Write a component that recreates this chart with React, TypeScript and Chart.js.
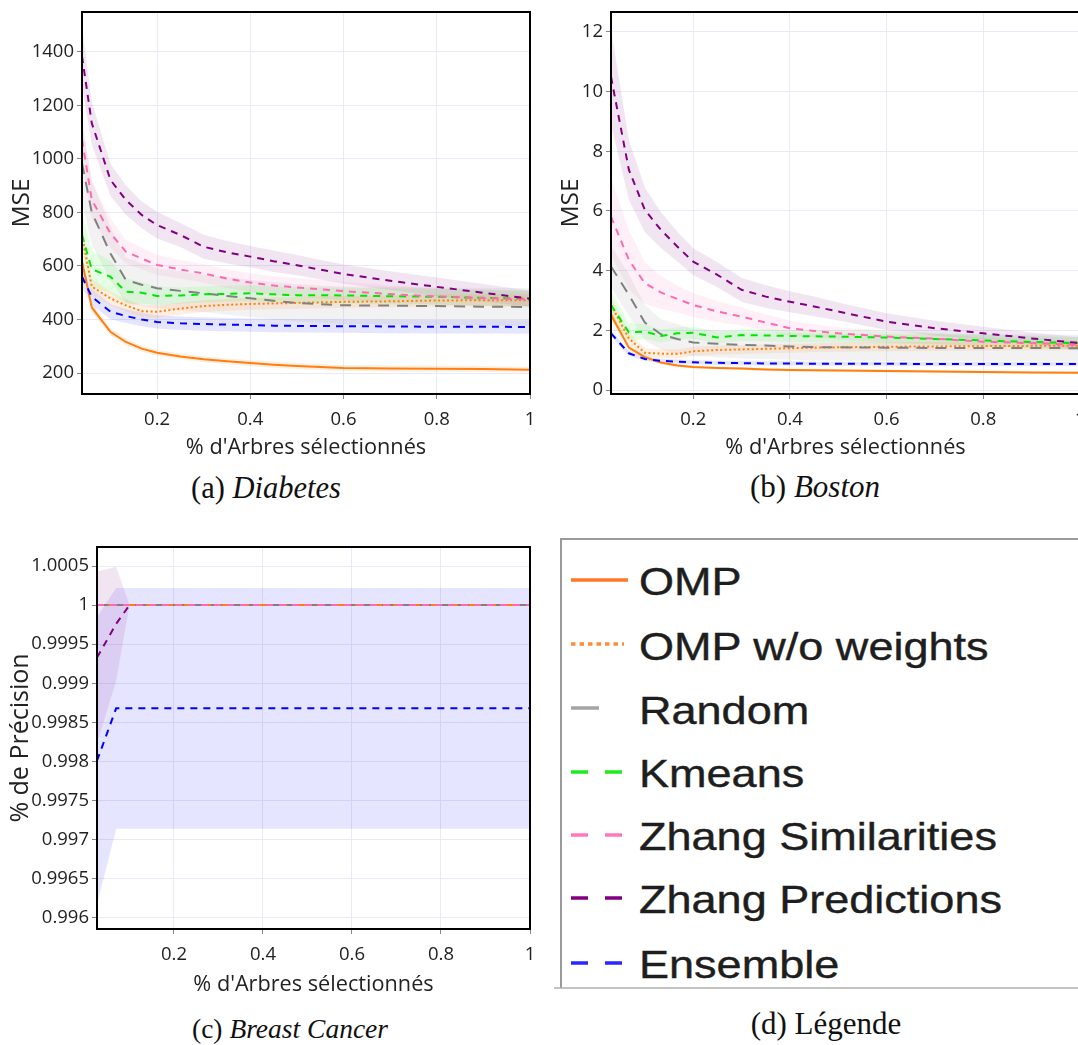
import React, { useEffect, useRef } from "react";
import { Chart, registerables } from "chart.js";

Chart.register(...registerables);

// ---------------- data ----------------
const SERIES_NAMES = ["OMP", "OMP w/o weights", "Random", "Kmeans", "Zhang Similarities", "Zhang Predictions", "Ensemble"];
const X_TICKS = [0.2, 0.4, 0.6, 0.8, 1];
const X_TITLE = "% d'Arbres sélectionnés";

// (a) Diabetes
const X_DIABETES = [0.039, 0.06, 0.1, 0.133, 0.167, 0.2, 0.25, 0.3, 0.35, 0.4, 0.45, 0.5, 0.6, 0.7, 0.8, 0.9, 1.0];
const Y_TICKS_DIABETES = [200, 400, 600, 800, 1000, 1200, 1400];
const DIA_OMP = [618, 445, 354, 316, 291, 276, 262, 251, 244, 237, 231, 226, 219, 217, 216, 215, 212];
const DIA_OMP_SD = [25, 18, 14, 12, 11, 11, 11, 11, 11, 11, 11, 11, 11, 11, 11, 11, 11];
const DIA_OMPW = [715, 523, 479, 453, 431, 429, 441, 450, 455, 458, 460, 462, 466, 468, 471, 472, 472];
const DIA_OMPW_SD = [40, 30, 26, 24, 22, 22, 22, 22, 22, 22, 22, 22, 22, 22, 22, 22, 22];
const DIA_RAND = [984, 800, 647, 548, 530, 517, 507, 498, 488, 479, 470, 462, 453, 452, 450, 448, 447];
const DIA_RAND_SD = [150, 120, 100, 85, 80, 75, 72, 70, 70, 70, 70, 70, 70, 70, 70, 70, 70];
const DIA_KM = [716, 588, 560, 504, 500, 488, 490, 494, 496, 498, 494, 491, 490, 487, 485, 481, 478];
const DIA_KM_SD = [90, 70, 60, 50, 40, 35, 30, 30, 30, 30, 30, 30, 30, 30, 30, 30, 30];
const DIA_ZS = [1072, 847, 722, 654, 628, 604, 587, 572, 553, 538, 527, 520, 506, 495, 486, 480, 475];
const DIA_ZS_SD = [80, 70, 55, 45, 40, 38, 35, 35, 35, 35, 35, 35, 35, 33, 30, 30, 30];
const DIA_ZP = [1384, 1134, 922, 847, 791, 753, 716, 672, 651, 635, 618, 603, 570, 545, 522, 500, 478];
const DIA_ZP_SD = [110, 80, 60, 55, 50, 50, 45, 45, 42, 40, 40, 38, 36, 35, 35, 33, 30];
const DIA_ENS = [560, 485, 429, 413, 400, 391, 386, 383, 381, 379, 377, 376, 375, 374, 373, 373, 372];
const DIA_ENS_SD = [40, 30, 28, 26, 25, 25, 25, 25, 25, 25, 25, 25, 25, 25, 25, 25, 25];

// (b) Boston
const X_BOSTON = [0.03, 0.067, 0.1, 0.133, 0.167, 0.2, 0.25, 0.3, 0.35, 0.4, 0.45, 0.5, 0.6, 0.7, 0.8, 0.9, 1.0];
const Y_TICKS_BOSTON = [0, 2, 4, 6, 8, 10, 12];
const BOS_OMP = [2.52, 1.42, 1.10, 0.92, 0.82, 0.77, 0.74, 0.72, 0.69, 0.67, 0.66, 0.65, 0.64, 0.62, 0.60, 0.59, 0.58];
const BOS_OMP_SD = [0.15, 0.1, 0.07, 0.06, 0.05, 0.05, 0.05, 0.05, 0.05, 0.05, 0.05, 0.05, 0.05, 0.05, 0.05, 0.05, 0.05];
const BOS_OMPW = [2.85, 1.73, 1.25, 1.22, 1.21, 1.30, 1.34, 1.36, 1.38, 1.40, 1.42, 1.43, 1.45, 1.46, 1.47, 1.48, 1.48];
const BOS_OMPW_SD = [0.3, 0.2, 0.15, 0.15, 0.15, 0.15, 0.15, 0.15, 0.15, 0.15, 0.15, 0.15, 0.15, 0.15, 0.15, 0.15, 0.15];
const BOS_RAND = [4.14, 3.19, 2.26, 1.87, 1.71, 1.59, 1.55, 1.51, 1.49, 1.46, 1.44, 1.43, 1.42, 1.41, 1.41, 1.41, 1.40];
const BOS_RAND_SD = [0.7, 0.7, 0.6, 0.5, 0.5, 0.45, 0.45, 0.45, 0.45, 0.45, 0.45, 0.45, 0.45, 0.45, 0.45, 0.45, 0.45];
const BOS_KM = [2.85, 1.93, 1.96, 1.81, 1.90, 1.92, 1.76, 1.84, 1.83, 1.81, 1.80, 1.79, 1.76, 1.71, 1.66, 1.61, 1.57];
const BOS_KM_SD = [0.5, 0.3, 0.25, 0.22, 0.2, 0.2, 0.2, 0.2, 0.2, 0.2, 0.2, 0.2, 0.2, 0.2, 0.2, 0.2, 0.2];
const BOS_ZS = [5.81, 4.36, 3.58, 3.27, 3.05, 2.85, 2.63, 2.46, 2.26, 2.07, 1.98, 1.90, 1.79, 1.72, 1.62, 1.57, 1.51];
const BOS_ZS_SD = [1.3, 1.0, 0.7, 0.55, 0.45, 0.4, 0.35, 0.3, 0.28, 0.25, 0.22, 0.2, 0.2, 0.18, 0.15, 0.15, 0.15];
const BOS_ZP = [10.5, 7.38, 6.04, 5.37, 4.81, 4.30, 3.86, 3.36, 3.13, 2.96, 2.80, 2.63, 2.29, 2.07, 1.90, 1.73, 1.57];
const BOS_ZP_SD = [1.6, 1.0, 0.75, 0.6, 0.5, 0.45, 0.42, 0.4, 0.38, 0.35, 0.33, 0.3, 0.28, 0.25, 0.22, 0.2, 0.2];
const BOS_ENS = [1.90, 1.23, 1.04, 0.98, 0.95, 0.93, 0.91, 0.90, 0.89, 0.89, 0.88, 0.88, 0.88, 0.87, 0.87, 0.87, 0.87];
const BOS_ENS_SD = [0.1, 0.08, 0.07, 0.07, 0.07, 0.07, 0.07, 0.07, 0.07, 0.07, 0.07, 0.07, 0.07, 0.07, 0.07, 0.07, 0.07];

// (c) Breast Cancer
const X_BREAST = [0.027, 0.07, 0.1, 0.2, 0.4, 0.6, 0.8, 1.0];
const Y_TICKS_BREAST = [0.996, 0.9965, 0.997, 0.9975, 0.998, 0.9985, 0.999, 0.9995, 1, 1.0005];
const BC_OMP = [1, 1, 1, 1, 1, 1, 1, 1];
const BC_OMPW = [1, 1, 1, 1, 1, 1, 1, 1];
const BC_RAND = [1, 1, 1, 1, 1, 1, 1, 1];
const BC_KM = [1, 1, 1, 1, 1, 1, 1, 1];
const BC_ZS = [1, 1, 1, 1, 1, 1, 1, 1];
const BC_ZERO_SD = [0, 0, 0, 0, 0, 0, 0, 0];
const BC_ZP = [0.99933, 0.99976, 1, 1, 1, 1, 1, 1];
const BC_ZP_SD = [0.0011, 0.00073, 0, 0, 0, 0, 0, 0];
const BC_ENS = [0.99801, 0.99868, 0.99868, 0.99868, 0.99868, 0.99868, 0.99868, 0.99868];
const BC_ENS_SD = [0.00184, 0.00154, 0.00154, 0.00154, 0.00154, 0.00154, 0.00154, 0.00154];

// ---------------- styles ----------------
const STYLES = [
  { color: "rgb(255,127,14)", band: "rgba(255,127,14,0.12)", dash: [] as number[] },
  { color: "rgb(255,127,14)", band: "rgba(255,127,14,0.12)", dash: [2, 2.5] },
  { color: "rgb(128,128,128)", band: "rgba(128,128,128,0.1)", dash: [11, 8] },
  { color: "rgb(0,230,0)", band: "rgba(0,255,0,0.1)", dash: [7, 6] },
  { color: "rgb(255,105,180)", band: "rgba(255,105,180,0.1)", dash: [7, 6] },
  { color: "rgb(128,0,128)", band: "rgba(128,0,128,0.1)", dash: [7, 6] },
  { color: "rgb(0,0,255)", band: "rgba(0,0,255,0.1)", dash: [7, 6] },
];

const LEGEND_STYLES = [
  { color: "rgb(255,120,40)", dash: "", len: 57 },
  { color: "rgb(255,140,60)", dash: "4.5 4", len: 53 },
  { color: "rgb(165,165,165)", dash: "", len: 28 },
  { color: "rgb(30,235,30)", dash: "17 17", len: 52 },
  { color: "rgb(255,120,190)", dash: "17 17", len: 52 },
  { color: "rgb(128,0,128)", dash: "17 17", len: 52 },
  { color: "rgb(40,40,255)", dash: "17 17", len: 52 },
];

const GRID = "#e8ebf5";
const FONT = "'Open Sans', 'Noto Sans', sans-serif";

const framePlugin = {
  id: "frame",
  afterDatasetsDraw(chart: any) {
    const { ctx, chartArea: a } = chart;
    ctx.save();
    ctx.strokeStyle = "#000";
    ctx.lineWidth = 2;
    ctx.setLineDash([]);
    ctx.strokeRect(a.left, a.top, a.right - a.left, a.bottom - a.top);
    ctx.restore();
  },
};

function makeConfig(p: any) {
  const datasets: any[] = [];
  p.means.forEach((mean: number[], i: number) => {
    const sd = p.sds[i];
    datasets.push({
      data: p.xs.map((x: number, j: number) => ({ x, y: mean[j] + sd[j] })),
      borderColor: "rgba(0,0,0,0)",
      borderWidth: 0,
      pointRadius: 0,
      fill: false,
      order: 100,
    });
    datasets.push({
      data: p.xs.map((x: number, j: number) => ({ x, y: mean[j] - sd[j] })),
      borderColor: "rgba(0,0,0,0)",
      borderWidth: 0,
      pointRadius: 0,
      fill: "-1",
      backgroundColor: STYLES[i].band,
      order: 100,
    });
  });
  p.means.forEach((mean: number[], i: number) => {
    datasets.push({
      label: SERIES_NAMES[i],
      data: p.xs.map((x: number, j: number) => ({ x, y: mean[j] })),
      borderColor: STYLES[i].color,
      borderWidth: 2,
      borderDash: STYLES[i].dash,
      pointRadius: 0,
      fill: false,
      tension: 0,
      order: p.orders[i],
    });
  });

  const tickFont = { family: FONT, size: 18.5 };
  return {
    type: "line",
    data: { datasets },
    options: {
      animation: false,
      responsive: true,
      maintainAspectRatio: false,
      events: [],
      layout: { padding: p.pad },
      plugins: {
        legend: { display: false },
        tooltip: { enabled: false },
        filler: { drawTime: "beforeDatasetsDraw", propagate: false },
      },
      scales: {
        x: {
          type: "linear",
          min: p.xMin,
          max: 1,
          afterBuildTicks: (s: any) => {
            s.ticks = X_TICKS.map((v) => ({ value: v }));
          },
          afterFit: (s: any) => {
            s.height = p.xH;
            s.paddingLeft = 0;
            s.paddingRight = 0;
          },
          grid: { color: GRID, lineWidth: 1, tickLength: 5, tickColor: "#888", drawTicks: true },
          border: { display: false },
          ticks: {
            font: tickFont,
            color: "#222",
            padding: 10,
            maxRotation: 0,
            autoSkip: false,
            callback: (v: any) => String(v),
          },
          title: {
            display: true,
            text: X_TITLE,
            font: { family: FONT, size: 21.7 },
            color: "#222",
            padding: { top: 0, bottom: p.xTitlePad },
          },
        },
        y: {
          type: "linear",
          min: p.yMin,
          max: p.yMax,
          afterBuildTicks: (s: any) => {
            s.ticks = p.yTicks.map((v: number) => ({ value: v }));
          },
          afterFit: (s: any) => {
            s.width = p.yW;
            s.paddingTop = 0;
            s.paddingBottom = 0;
          },
          grid: { color: GRID, lineWidth: 1, tickLength: 5, tickColor: "#888", drawTicks: true },
          border: { display: false },
          ticks: {
            font: tickFont,
            color: "#222",
            padding: 3,
            autoSkip: false,
            callback: (v: any) => String(v),
          },
          title: {
            display: true,
            text: p.yTitle,
            font: { family: FONT, size: p.yTitleSize },
            color: "#222",
            padding: { top: p.yTitlePad, bottom: 0 },
          },
        },
      },
    },
    plugins: [framePlugin],
  };
}

const PANEL_A = {
  box: { left: 0, top: 0, width: 540, height: 466 },
  pad: { left: 0, right: 10, top: 12, bottom: 0 },
  yW: 82, xH: 72, xTitlePad: 5,
  xMin: 0.039, yMin: 121.5, yMax: 1549.5, yTicks: Y_TICKS_DIABETES,
  yTitle: "MSE", yTitleSize: 24.5, yTitlePad: 7,
  xs: X_DIABETES,
  means: [DIA_OMP, DIA_OMPW, DIA_RAND, DIA_KM, DIA_ZS, DIA_ZP, DIA_ENS],
  sds: [DIA_OMP_SD, DIA_OMPW_SD, DIA_RAND_SD, DIA_KM_SD, DIA_ZS_SD, DIA_ZP_SD, DIA_ENS_SD],
  orders: [10, 9, 8, 7, 6, 5, 4],
};

const PANEL_B = {
  box: { left: 540, top: 0, width: 550, height: 466 },
  pad: { left: 0, right: 10, top: 12, bottom: 0 },
  yW: 71, xH: 72, xTitlePad: 5,
  xMin: 0.03, yMin: -0.134, yMax: 12.67, yTicks: Y_TICKS_BOSTON,
  yTitle: "MSE", yTitleSize: 24.5, yTitlePad: 16,
  xs: X_BOSTON,
  means: [BOS_OMP, BOS_OMPW, BOS_RAND, BOS_KM, BOS_ZS, BOS_ZP, BOS_ENS],
  sds: [BOS_OMP_SD, BOS_OMPW_SD, BOS_RAND_SD, BOS_KM_SD, BOS_ZS_SD, BOS_ZP_SD, BOS_ENS_SD],
  orders: [10, 9, 8, 7, 6, 5, 4],
};

const PANEL_C = {
  box: { left: 0, top: 530, width: 540, height: 475 },
  pad: { left: 0, right: 10, top: 17, bottom: 0 },
  yW: 97, xH: 76, xTitlePad: 7,
  xMin: 0.027, yMin: 0.995859, yMax: 1.000743, yTicks: Y_TICKS_BREAST,
  yTitle: "% de Précision", yTitleSize: 25, yTitlePad: 6,
  xs: X_BREAST,
  means: [BC_OMP, BC_OMPW, BC_RAND, BC_KM, BC_ZS, BC_ZP, BC_ENS],
  sds: [BC_ZERO_SD, BC_ZERO_SD, BC_ZERO_SD, BC_ZERO_SD, BC_ZERO_SD, BC_ZP_SD, BC_ENS_SD],
  orders: [10, 9, 8, 7, 5, 12, 4],
};

function ChartPanel({ panel }: { panel: any }) {
  const ref = useRef<HTMLCanvasElement | null>(null);
  useEffect(() => {
    if (!ref.current) return;
    const chart = new Chart(ref.current, makeConfig(panel) as any);
    return () => chart.destroy();
  }, [panel]);
  return (
    <div style={{ position: "absolute", ...panel.box }}>
      <canvas ref={ref} />
    </div>
  );
}

function Caption({ cx, cy, label, name, italic, size }: any) {
  return (
    <div
      style={{
        position: "absolute",
        left: cx - 200,
        top: cy - 21,
        width: 400,
        textAlign: "center",
        fontFamily: "'Liberation Serif', 'Times New Roman', serif",
        fontSize: size || 30,
        lineHeight: "36px",
        color: "#111",
        whiteSpace: "nowrap",
      }}
    >
      {label} {italic ? <i>{name}</i> : name}
    </div>
  );
}

const LEGEND_LINE_Y = [580, 644, 708, 772, 835, 898, 963];
const LEGEND_TEXT_Y = [581, 646.5, 710, 773, 836, 899, 964];

function LegendPanel() {
  return (
    <svg
      style={{ position: "absolute", left: 540, top: 520 }}
      width={538}
      height={525}
      viewBox="540 520 538 525"
    >
      <path d="M 1100 539 H 561 V 988" fill="none" stroke="#9a9a9a" strokeWidth={2} />
      <line x1={554} y1={988} x2={1100} y2={988} stroke="#b0b0b0" strokeWidth={1.5} />
      {SERIES_NAMES.map((name, i) => {
        const st = LEGEND_STYLES[i];
        const ly = LEGEND_LINE_Y[i];
        const ty = LEGEND_TEXT_Y[i];
        return (
          <g key={name}>
            <line
              x1={571}
              y1={ly}
              x2={571 + st.len}
              y2={ly}
              stroke={st.color}
              strokeWidth={3.5}
              strokeDasharray={st.dash || undefined}
            />
            <text
              transform={`translate(639 ${ty + 13.8}) scale(1.17 1)`}
              x={0}
              y={0}
              fontFamily="'Liberation Sans', Arial, sans-serif"
              fontSize={38.5}
              fill="#1e1e1e"
              stroke="#1e1e1e"
              strokeWidth={0.4}
            >
              {name}
            </text>
          </g>
        );
      })}
    </svg>
  );
}

export default function App() {
  return (
    <div
      style={{
        position: "absolute",
        left: 0,
        top: 0,
        width: 1078,
        height: 1045,
        overflow: "hidden",
        background: "#fff",
      }}
    >
      <ChartPanel panel={PANEL_A} />
      <ChartPanel panel={PANEL_B} />
      <ChartPanel panel={PANEL_C} />
      <LegendPanel />
      <Caption cx={266} cy={491} label="(a)" name="Diabetes" italic size={30.5} />
      <Caption cx={815} cy={490} label="(b)" name="Boston" italic size={31} />
      <Caption cx={290} cy={1032} label="(c)" name="Breast Cancer" italic size={27.5} />
      <Caption cx={826} cy={1027} label="(d)" name="Légende" italic={false} size={31} />
    </div>
  );
}
